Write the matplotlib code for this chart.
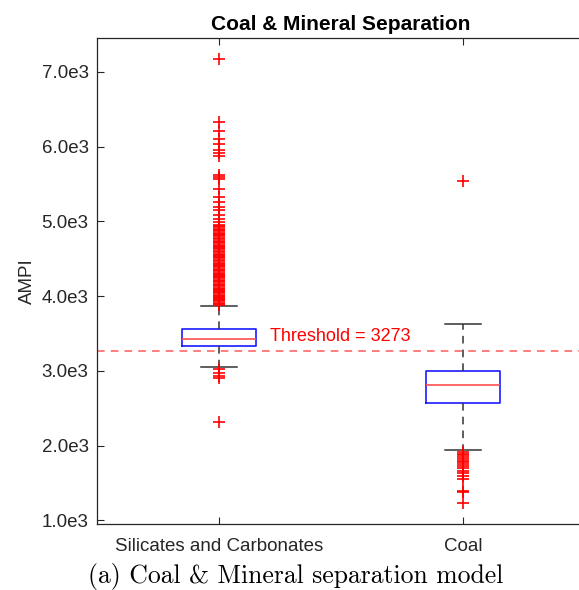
import matplotlib
matplotlib.use("Agg")
import matplotlib.pyplot as plt

# Group labels and box statistics (AMPI)
groups = ["Silicates and Carbonates", "Coal"]
medians = [3427, 2813]
q1 = [3339, 2573]
q3 = [3557, 3000]
whisker_low = [3049, 1945]
whisker_high = [3868, 3623]

# Outliers per group
fliers_silicates = [
    7170, 6330, 6210, 6100, 6030, 5960, 5910, 5880,
    5620, 5595, 5570, 5440, 5330, 5260, 5200, 5150, 5090, 5030, 4990,
    4950, 4935, 4920, 4900, 4885, 4870, 4845, 4830, 4815, 4800, 4780,
    4765, 4745, 4730, 4715, 4690, 4675, 4660, 4640, 4625, 4610, 4585,
    4570, 4555, 4540, 4520, 4505, 4490, 4465, 4450, 4435, 4420, 4405,
    4390, 4370, 4355, 4340, 4315, 4300, 4285, 4270, 4255, 4240, 4215,
    4200, 4185, 4170, 4155, 4140, 4115, 4100, 4085, 4070, 4055, 4040,
    4020, 4005, 3990, 3975, 3960, 3945, 3930, 3915, 3900, 3888,
    3020, 2975, 2935, 2905, 2320,
]
fliers_coal = [
    5545,
    1915, 1890, 1870, 1850, 1825, 1800, 1780, 1760, 1730, 1700,
    1665, 1640, 1600, 1560, 1395, 1375, 1235,
]

threshold = 3273
y_ticks = [1000, 2000, 3000, 4000, 5000, 6000, 7000]
y_tick_labels = ["1.0e3", "2.0e3", "3.0e3", "4.0e3", "5.0e3", "6.0e3", "7.0e3"]

plt.rcParams["font.family"] = ["Liberation Sans", "DejaVu Sans"]

fig = plt.figure(figsize=(5.79, 5.90), dpi=100)
ax = fig.add_axes([97 / 579, 66 / 590, (585 - 97) / 579, (524 - 38) / 590])

stats = []
for i, name in enumerate(groups):
    stats.append({
        "label": name,
        "med": medians[i],
        "q1": q1[i],
        "q3": q3[i],
        "whislo": whisker_low[i],
        "whishi": whisker_high[i],
        "fliers": fliers_silicates if i == 0 else fliers_coal,
    })

ax.bxp(
    stats,
    positions=[1, 2],
    widths=0.3,
    showfliers=True,
    boxprops=dict(color="#1a1aff", linewidth=1.2),
    medianprops=dict(color="#ff4d4d", linewidth=1.2),
    whiskerprops=dict(color="#333333", linewidth=1.1, linestyle=(0, (5, 4))),
    capprops=dict(color="#333333", linewidth=1.1),
    flierprops=dict(marker="+", markeredgecolor="red", markersize=9,
                    markeredgewidth=1.2, linestyle="none"),
    capwidths=0.15,
)

ax.axhline(threshold, color="#ff5a5a", linewidth=1.1, linestyle=(0, (5, 4)))
ax.text(1.21, 3455, f"Threshold = {threshold}", color="red", fontsize=13,
        ha="left", va="center")

ax.set_xlim(0.5, 2.5)
ax.set_ylim(953, 7454)
ax.set_yticks(y_ticks)
ax.set_yticklabels(y_tick_labels)
ax.set_xticks([1, 2])
ax.set_xticklabels(groups)

ax.tick_params(axis="both", direction="in", length=5, width=0.8,
               colors="#262626", labelsize=13.5, top=True, right=False)
ax.tick_params(axis="x", pad=10)
ax.tick_params(axis="y", pad=6)
for side in ["left", "top", "bottom"]:
    ax.spines[side].set_color("#262626")
    ax.spines[side].set_linewidth(0.9)
ax.spines["right"].set_visible(False)

ax.set_ylabel("AMPI", fontsize=13.5, color="#262626", labelpad=4)
ax.set_title("Coal & Mineral Separation", fontsize=15, fontweight="bold",
             pad=6)

fig.text(0.5 * (88 + 503) / 579, 1 - 577 / 590,
         "(a) Coal & Mineral separation model",
         family=["cmr10", "DejaVu Serif"], fontsize=18.5,
         ha="center", va="center")

fig.savefig("out.png", dpi=100)
